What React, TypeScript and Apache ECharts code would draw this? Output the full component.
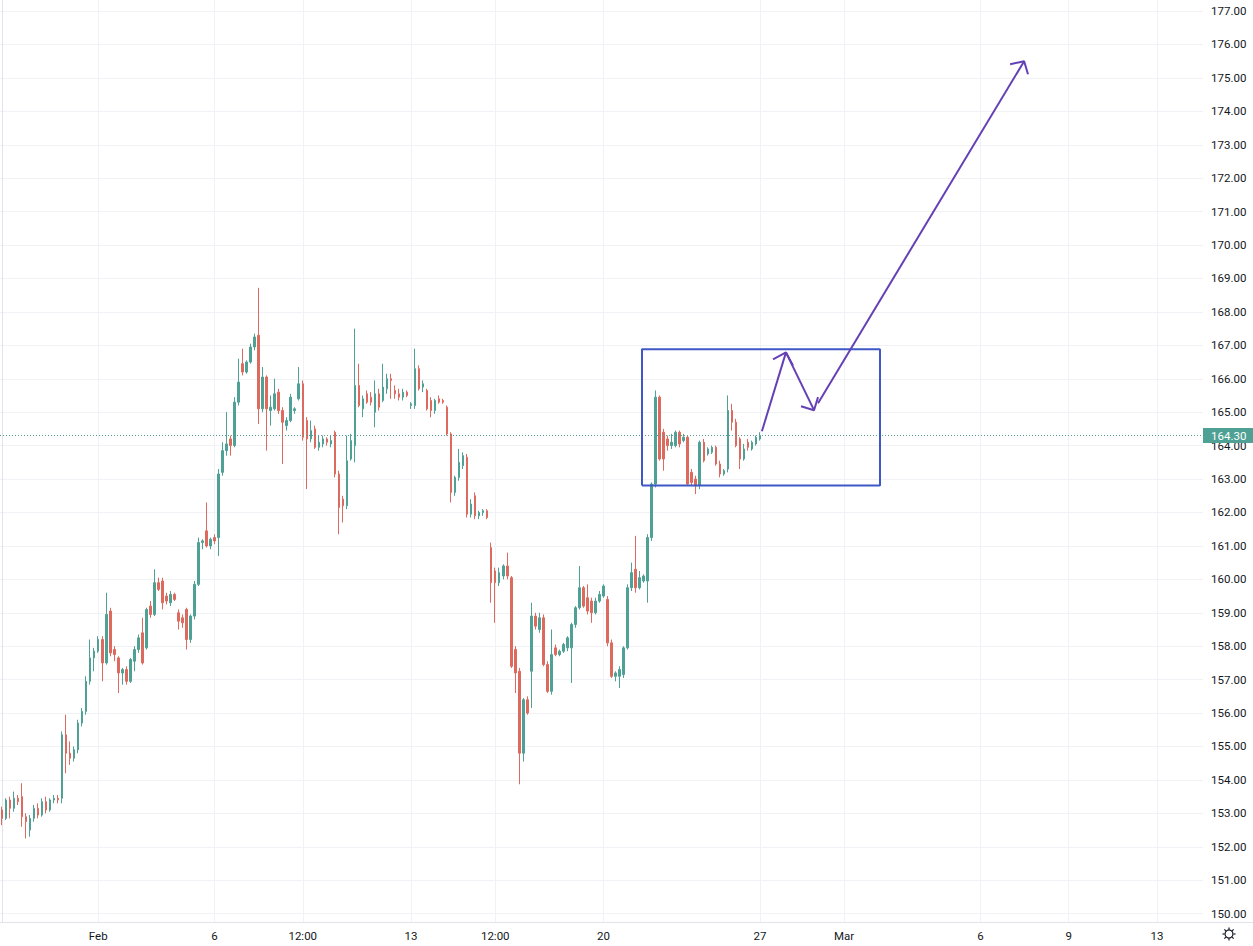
import React, { useEffect, useRef } from 'react';
import * as echarts from 'echarts';

// ---- price data (30-min style bars) ----
const opens = [
  153.10, 152.85, 153.40, 153.15, 153.45, 153.50, 152.90, 152.50, 152.85, 153.15,
  152.95, 153.35, 153.10, 153.40, 153.45, 153.45, 155.35, 154.80, 154.65, 154.90,
  155.70, 156.05, 156.95, 157.65, 157.85, 158.20, 157.50, 159.05, 157.90, 157.65,
  157.20, 157.30, 156.95, 157.55, 157.90, 158.40, 157.95, 159.20, 158.95, 159.90,
  159.95, 159.50, 159.30, 159.55, 159.00, 158.85, 159.10, 158.20, 158.90, 159.85,
  161.10, 161.45, 161.00, 161.25, 161.25, 163.20, 163.85, 164.20, 164.00, 165.30,
  166.45, 166.20, 166.50, 166.95, 167.30, 165.10, 166.05, 165.05, 165.10, 165.60,
  165.05, 164.60, 164.75, 165.05, 165.40, 165.85, 164.75, 164.20, 164.50, 163.95,
  164.05, 164.20, 164.05, 164.40, 163.15, 162.40, 162.20, 163.60, 164.00, 165.80,
  165.10, 165.55, 165.45, 165.00, 165.55, 165.35, 165.70, 166.00, 165.65, 165.55,
  165.45, 165.60, 165.20, 165.20, 166.30, 165.75, 165.65, 165.35, 165.05, 165.40,
  165.35, 165.15, 164.35, 162.60, 163.05, 163.40, 163.65, 161.95, 162.50, 161.90,
  162.00, 162.05, 160.95, 160.25, 159.90, 160.10, 160.40, 160.05, 157.90, 157.25,
  154.80, 156.40, 157.25, 158.90, 158.50, 158.85, 157.45, 156.65, 157.95, 157.75,
  157.85, 157.95, 157.95, 158.65, 159.15, 159.75, 159.45, 159.35, 159.00, 159.35,
  159.50, 159.40, 158.10, 157.10, 157.10, 157.15, 157.95, 159.75, 160.30, 159.75,
  159.95, 159.95, 161.25, 162.85, 165.45, 164.40, 164.20, 164.00, 164.00, 164.40,
  164.15, 164.25, 163.20, 163.00, 162.80, 164.10, 163.75, 163.80, 163.95, 163.45,
  163.15, 163.30, 165.05, 164.70, 164.20, 163.60, 164.10, 163.90, 164.05, 164.20,
];
const highs = [
  153.20, 153.45, 153.50, 153.65, 153.55, 153.90, 153.00, 152.95, 153.25, 153.30,
  153.45, 153.50, 153.45, 153.55, 153.55, 155.45, 155.95, 155.15, 155.00, 155.80,
  156.15, 157.10, 158.20, 157.95, 158.30, 158.30, 159.60, 159.15, 158.00, 157.70,
  157.35, 157.40, 157.65, 158.00, 158.35, 158.85, 159.15, 159.35, 160.30, 160.05,
  160.05, 159.60, 159.65, 159.60, 159.10, 158.95, 159.15, 158.95, 159.95, 161.25,
  161.20, 162.30, 161.25, 161.35, 163.30, 164.10, 165.00, 164.30, 165.45, 166.60,
  166.90, 166.55, 167.05, 167.35, 168.72, 166.35, 166.10, 165.50, 166.00, 165.70,
  165.15, 164.85, 165.55, 165.15, 166.35, 165.95, 164.85, 164.75, 164.60, 164.30,
  164.30, 164.25, 164.30, 164.45, 163.25, 162.50, 164.30, 164.35, 167.50, 166.45,
  165.50, 165.65, 165.60, 165.95, 165.70, 166.45, 166.15, 166.15, 165.80, 165.70,
  165.70, 165.65, 165.30, 166.90, 166.40, 165.95, 165.70, 165.45, 165.40, 165.50,
  165.40, 165.20, 164.40, 163.10, 163.90, 163.80, 163.75, 162.40, 162.60, 162.05,
  162.10, 162.10, 161.10, 160.35, 160.35, 160.45, 160.80, 160.10, 158.00, 157.35,
  156.45, 156.50, 159.30, 159.00, 159.00, 158.95, 157.55, 158.50, 158.05, 157.90,
  158.10, 158.30, 158.70, 159.20, 160.40, 159.80, 159.85, 159.45, 159.45, 159.65,
  159.85, 159.50, 158.20, 157.25, 157.40, 158.00, 159.85, 160.50, 161.30, 160.25,
  160.15, 161.35, 162.90, 165.65, 165.50, 164.50, 164.30, 164.35, 164.45, 164.45,
  164.35, 164.30, 163.30, 163.10, 164.15, 164.20, 163.95, 164.00, 164.00, 163.55,
  163.30, 165.50, 165.25, 164.80, 164.25, 164.05, 164.20, 164.15, 164.30, 164.40,
];
const lows = [
  152.65, 152.80, 152.85, 153.05, 153.25, 152.60, 152.25, 152.30, 152.75, 152.85,
  152.90, 153.00, 153.05, 153.30, 153.30, 153.30, 154.20, 154.45, 154.55, 154.80,
  155.60, 155.95, 156.85, 157.25, 157.80, 156.95, 157.45, 157.70, 157.55, 156.60,
  156.85, 156.85, 156.90, 157.25, 157.80, 157.45, 157.90, 158.85, 158.90, 159.65,
  159.10, 159.25, 159.20, 159.35, 158.50, 158.55, 157.90, 158.10, 158.80, 159.80,
  160.90, 160.95, 160.90, 161.05, 160.70, 163.10, 163.70, 163.70, 163.95, 165.20,
  166.10, 166.15, 166.45, 166.85, 164.65, 165.00, 163.85, 164.60, 165.05, 164.95,
  163.45, 164.45, 164.70, 164.95, 165.35, 164.15, 162.70, 164.10, 163.90, 163.85,
  163.95, 164.00, 163.95, 163.05, 161.35, 161.70, 162.10, 163.55, 163.50, 165.15,
  164.85, 165.25, 165.20, 164.55, 165.05, 165.30, 165.55, 165.40, 165.40, 165.35,
  165.35, 165.45, 165.10, 165.10, 165.65, 165.60, 165.05, 164.85, 164.95, 165.25,
  165.25, 164.30, 162.30, 162.50, 162.95, 163.30, 161.85, 161.85, 161.80, 161.80,
  161.90, 161.80, 159.30, 158.70, 159.80, 160.00, 160.00, 157.35, 156.60, 153.87,
  154.55, 155.95, 156.15, 158.50, 158.40, 157.40, 156.60, 156.55, 157.70, 157.70,
  157.80, 157.85, 156.90, 158.55, 159.10, 159.15, 158.95, 158.70, 158.95, 159.30,
  159.45, 158.00, 157.05, 156.95, 156.75, 157.05, 157.90, 159.65, 159.60, 159.70,
  159.90, 159.30, 161.15, 162.75, 163.55, 163.25, 163.85, 163.90, 163.95, 163.95,
  164.10, 162.80, 162.80, 162.55, 162.70, 163.50, 163.70, 163.75, 163.40, 163.05,
  163.10, 163.20, 164.45, 163.95, 163.30, 163.55, 163.85, 163.85, 164.00, 164.15,
];
const closes = [
  152.85, 153.40, 153.15, 153.45, 153.35, 152.90, 152.75, 152.85, 153.15, 152.95,
  153.35, 153.10, 153.40, 153.45, 153.40, 155.35, 154.80, 154.65, 154.90, 155.70,
  156.05, 156.95, 157.65, 157.85, 158.20, 157.50, 158.95, 157.80, 157.75, 157.20,
  157.30, 156.95, 157.60, 157.90, 158.25, 157.50, 159.10, 158.95, 159.90, 159.70,
  159.30, 159.35, 159.55, 159.40, 158.75, 158.70, 158.20, 158.90, 159.85, 161.10,
  161.15, 161.00, 161.20, 161.15, 163.15, 163.85, 164.05, 164.00, 165.30, 165.90,
  166.20, 166.50, 166.95, 167.25, 165.10, 166.05, 165.10, 165.15, 165.55, 165.05,
  164.70, 164.75, 165.45, 165.10, 165.85, 164.25, 164.20, 164.45, 163.95, 164.10,
  164.20, 164.10, 164.15, 163.15, 162.15, 162.20, 163.55, 164.15, 165.80, 165.20,
  165.40, 165.30, 165.30, 165.55, 165.15, 165.75, 166.00, 165.95, 165.55, 165.45,
  165.60, 165.50, 165.25, 166.30, 165.70, 165.85, 165.10, 165.05, 165.35, 165.30,
  165.30, 164.35, 162.60, 163.05, 163.50, 163.70, 161.95, 162.25, 161.90, 162.00,
  162.05, 161.85, 159.90, 159.90, 160.20, 160.40, 160.10, 157.40, 157.20, 154.80,
  156.40, 156.00, 158.90, 158.60, 158.85, 157.45, 156.65, 157.75, 157.75, 157.85,
  158.05, 158.25, 158.65, 159.15, 159.75, 159.20, 159.05, 159.00, 159.35, 159.55,
  159.80, 158.10, 157.10, 157.20, 157.30, 157.95, 159.75, 160.20, 159.75, 160.05,
  160.10, 161.25, 162.85, 165.45, 163.60, 163.60, 164.00, 164.10, 164.40, 164.05,
  164.25, 162.85, 162.90, 162.80, 164.10, 163.55, 163.90, 163.95, 163.45, 163.15,
  163.25, 165.05, 164.70, 164.00, 163.60, 163.90, 163.95, 164.10, 164.25, 164.30,
];

// ---- time axis: slots (bars + projected future space) and tick labels ----
const SLOT_COUNT = 300;
const timeLabelSlots = [24, 53, 75, 102, 123, 150, 189, 210, 244, 266, 288];
const timeLabelTexts = ['Feb', '6', '12:00', '13', '12:00', '20', '27', 'Mar', '6', '9', '13'];

// ---- price axis ----
const priceMin = 149.75;
const priceMax = 177.33;

// ---- drawings, in (slot, price) coordinates ----
const boxCorners = [
  [159.6, 162.81], [218.95, 162.81], [218.95, 166.88], [159.6, 166.88], [159.6, 162.81],
];
const arrowLines = [
  [[189.5, 164.43], [195.5, 166.79]],
  [[192.27, 166.58], [195.5, 166.79], [197.25, 166.4]],
  [[195.5, 166.79], [202.5, 165.06]],
  [[199.25, 165.18], [202.5, 165.06], [203.5, 165.45]],
  [[203.5, 165.27], [254.9, 175.5]],
  [[251.4, 175.41], [254.9, 175.5], [255.86, 175.11]],
];

const UP = '#4fa195';
const DOWN = '#dd6a5e';
const PRICE_LINE = '#5a9d94';
const GRID = '#f0f2f6';
const AXIS = '#e0e3eb';
const TEXT = '#131722';
const BOX = '#3f58c6';
const ARROW = '#6440b5';
const FONT = 'Roboto, "Liberation Sans", sans-serif';

export default function App() {
  const ref = useRef<HTMLDivElement>(null);

  useEffect(() => {
    if (!ref.current) return;
    const chart = echarts.init(ref.current, undefined, { renderer: 'svg' });
    const slots = Array.from({ length: SLOT_COUNT }, (_, i) => String(i));
    const labelMap = new Map<number, string>();
    timeLabelSlots.forEach((s, k) => labelMap.set(s, timeLabelTexts[k]));
    const candles = opens.map((o, i) => [o, closes[i], lows[i], highs[i]]);
    const last = closes[closes.length - 1];

    const gearRays = Array.from({ length: 8 }, (_, k) => {
      const a = (k * Math.PI) / 4;
      return {
        type: 'line',
        shape: { x1: Math.cos(a) * 4.5, y1: Math.sin(a) * 4.5, x2: Math.cos(a) * 6.5, y2: Math.sin(a) * 6.5 },
        style: { stroke: TEXT, lineWidth: 1.2 },
      };
    });

    const annotationSeries = [boxCorners, ...arrowLines].map((pts, k) => ({
      type: 'line',
      xAxisIndex: 1,
      yAxisIndex: 0,
      data: pts,
      symbol: 'none',
      showSymbol: false,
      silent: true,
      z: 6,
      lineStyle: { color: k === 0 ? BOX : ARROW, width: 2 },
    }));

    chart.setOption({
      animation: false,
      backgroundColor: '#ffffff',
      grid: { left: 0, right: 50, top: 0, bottom: 24, containLabel: false },
      xAxis: [
        {
          type: 'category',
          data: slots,
          boundaryGap: true,
          axisLine: { show: true, lineStyle: { color: AXIS } },
          axisTick: { show: false },
          splitLine: { show: false },
          axisLabel: {
            interval: (i: number) => labelMap.has(i),
            formatter: (_v: string, i: number) => labelMap.get(i) ?? '',
            color: TEXT,
            fontSize: 11.5,
            fontFamily: FONT,
            margin: 8,
          },
        },
        { type: 'value', min: -0.5, max: SLOT_COUNT - 0.5, show: false },
      ],
      yAxis: {
        type: 'value',
        position: 'right',
        min: priceMin,
        max: priceMax,
        splitNumber: 27,
        minInterval: 1,
        maxInterval: 1,
        axisLine: { show: true, lineStyle: { color: AXIS } },
        axisTick: { show: false },
        axisLabel: {
          color: TEXT,
          fontSize: 11.5,
          fontFamily: FONT,
          margin: 8,
          showMinLabel: false,
          showMaxLabel: false,
          formatter: (v: number) => v.toFixed(2),
        },
        splitLine: { show: true, showMinLine: false, showMaxLine: false, lineStyle: { color: GRID } },
      },
      series: [
        {
          type: 'line',
          xAxisIndex: 0,
          data: [],
          silent: true,
          markLine: {
            silent: true,
            z: 1,
            symbol: ['none', 'none'],
            label: { show: false },
            lineStyle: { color: GRID, type: 'solid', width: 1 },
            data: timeLabelSlots.map((s) => ({ xAxis: s })),
          },
        },
        {
          type: 'candlestick',
          data: candles,
          barWidth: 2,
          z: 3,
          itemStyle: { color: UP, color0: DOWN, borderColor: UP, borderColor0: DOWN, borderWidth: 1 },
          markLine: {
            silent: true,
            z: 5,
            symbol: ['none', 'none'],
            lineStyle: { color: PRICE_LINE, type: [1, 2], width: 1 },
            label: {
              show: true,
              position: 'end',
              distance: 0,
              formatter: last.toFixed(2),
              color: '#ffffff',
              backgroundColor: UP,
              padding: [2, 8, 1, 8],
              fontSize: 11.5,
              fontFamily: FONT,
            },
            data: [{ yAxis: last }],
          },
        },
        ...annotationSeries,
      ],
      graphic: [
        { type: 'line', shape: { x1: 1203, y1: 922.5, x2: 1253, y2: 922.5 }, style: { stroke: AXIS, lineWidth: 1 } },
        {
          type: 'group',
          x: 1229,
          y: 934,
          children: [
            { type: 'circle', shape: { cx: 0, cy: 0, r: 4 }, style: { fill: '#ffffff', stroke: TEXT, lineWidth: 1.2 } },
            ...gearRays,
          ],
        },
      ],
    });
    return () => chart.dispose();
  }, []);

  return (
    <div
      ref={ref}
      style={{ position: 'fixed', left: 0, top: 0, width: 1253, height: 946, background: '#fff' }}
    />
  );
}
